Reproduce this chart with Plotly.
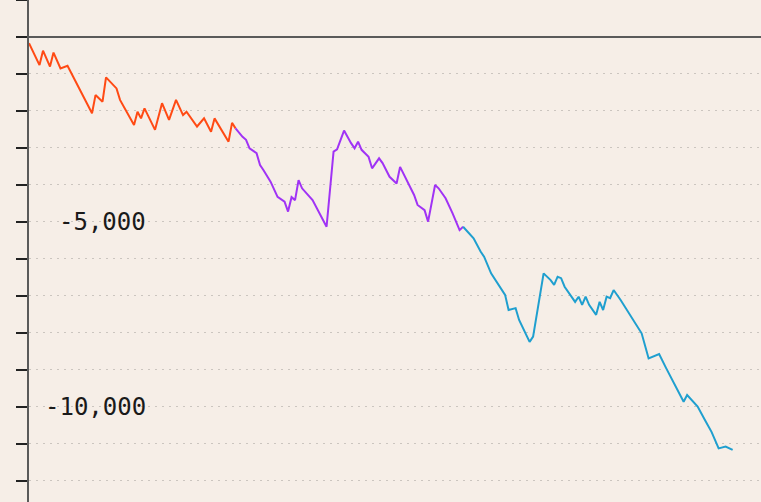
import plotly.graph_objects as go

# Trade number and cumulative P/L for the three segments
orange_x = [0, 3, 4, 6, 7, 9, 11, 14, 18, 19, 21, 22, 25, 26, 30, 31, 32, 33, 36, 38,
            40, 42, 44, 45, 48, 50, 52, 53, 57, 58, 59]
orange_y = [-170, -760, -370, -800, -420, -850, -780, -1340, -2060, -1570, -1750, -1090,
            -1390, -1700, -2380, -2020, -2200, -1930, -2510, -1790, -2240, -1700, -2110,
            -2020, -2420, -2200, -2560, -2200, -2830, -2320, -2470]

purple_x = [59, 61, 62, 63, 65, 66, 67, 69, 71, 73, 74, 75, 76, 77, 78, 81, 85, 87, 88,
            90, 92, 93, 94, 95, 97, 98, 100, 101, 103, 105, 106, 108, 110, 111, 113, 114,
            116, 117, 119, 121, 123, 124]
purple_y = [-2470, -2700, -2780, -3010, -3140, -3460, -3600, -3910, -4320, -4450, -4720,
            -4330, -4410, -3870, -4090, -4410, -5130, -3100, -3040, -2530, -2870, -3010,
            -2830, -3050, -3240, -3550, -3280, -3410, -3780, -3960, -3510, -3910, -4270,
            -4540, -4680, -4990, -4000, -4090, -4360, -4770, -5220, -5130]

blue_x = [124, 127, 129, 130, 132, 135, 136, 137, 139, 140, 143, 144, 147, 149, 150, 151,
          152, 153, 154, 156, 157, 158, 159, 160, 162, 163, 164, 165, 166, 167, 169, 172,
          175, 177, 180, 182, 183, 187, 188, 191, 193, 195, 197, 199, 201]
blue_y = [-5130, -5440, -5800, -5940, -6390, -6840, -6970, -7380, -7330, -7650, -8240,
          -8100, -6390, -6570, -6700, -6480, -6520, -6750, -6880, -7160, -7020, -7240,
          -7020, -7240, -7510, -7160, -7380, -7020, -7060, -6840, -7110, -7560, -8010,
          -8690, -8570, -8950, -9140, -9860, -9680, -9990, -10340, -10680, -11120,
          -11070, -11160]

label_vals = [-5000, -10000]
label_text = ["-5,000", "-10,000"]

bg = "#f6eee7"

fig = go.Figure()
for xs, ys, col in [(orange_x, orange_y, "#ff4a14"),
                    (purple_x, purple_y, "#a033f5"),
                    (blue_x, blue_y, "#1f9fcf")]:
    fig.add_trace(go.Scatter(x=xs, y=ys, mode="lines",
                             line=dict(color=col, width=2), showlegend=False,
                             hoverinfo="skip"))

fig.update_layout(
    width=761, height=502,
    margin=dict(l=29, r=0, t=0, b=0),
    paper_bgcolor=bg, plot_bgcolor=bg,
    xaxis=dict(range=[0, 209.1], showgrid=False, zeroline=False, showline=False,
               showticklabels=False, ticks=""),
    yaxis=dict(range=[-12570, 1000], dtick=1000, tick0=0,
               showgrid=True, gridcolor="#cbc5bf", griddash="2px,5px", gridwidth=1,
               zeroline=True, zerolinecolor="#5a5a5a", zerolinewidth=2,
               showline=True, linecolor="#5a5a5a", linewidth=2,
               ticks="outside", ticklen=11, tickwidth=2, tickcolor="#222222",
               showticklabels=False),
)

for v, t in zip(label_vals, label_text):
    fig.add_annotation(x=(148 - 29) / 732, xref="paper", y=v, yref="y",
                       text=t, showarrow=False, xanchor="right", yanchor="middle",
                       font=dict(family="DejaVu Sans Mono", size=24, color="#1a1a1a"))

fig.write_html("out.html",
               config={"displayModeBar": False},
               post_script="document.body.style.margin='0px';document.body.style.overflow='hidden';")
